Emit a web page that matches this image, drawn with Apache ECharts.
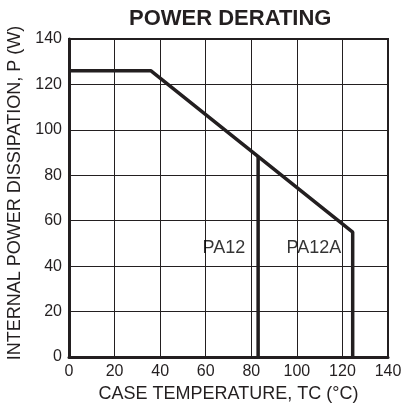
<!DOCTYPE html>
<html lang="en">
<head>
    <meta charset="utf-8">
    <title>Power Derating</title>
    <script src="https://cdn.jsdelivr.net/npm/echarts@6/dist/echarts.min.js"></script>
    <style>
        html, body { margin: 0; padding: 0; background: #fff; }
    </style>
</head>
<body>
    <div id="chart" style="width:404px;height:406px;"></div>
    <script type="text/javascript">

    // curve data: case temperature (°C) vs power (W)
    var deratingCurve = [[0, 126], [36, 126], [124.5, 55], [124.5, 0]];
    var pa12Cutoff = [[83, 88], [83, 0]];
    var partLabels = [
        {name: 'PA12', value: [68, 48]},
        {name: 'PA12A', value: [107.5, 48]}
    ];
    var axisMin = 0, axisMax = 140, axisStep = 20;

    var font = '"Liberation Sans", Arial, Helvetica, sans-serif';
    var ink = '#231f20';

    var chart = echarts.init(document.getElementById('chart'));
    chart.setOption({
        animation: false,
        title: {
            text: 'POWER DERATING',
            left: 124,
            top: 3,
            textStyle: {fontFamily: font, fontSize: 22, fontWeight: 'bold', color: ink}
        },
        grid: {
            left: 69, right: 16, top: 39, bottom: 49,
            outerBoundsMode: 'none',
            show: true, borderColor: ink, borderWidth: 2
        },
        xAxis: {
            type: 'value',
            min: axisMin, max: axisMax, interval: axisStep,
            name: 'CASE TEMPERATURE, TC (°C)',
            nameLocation: 'middle',
            nameGap: 26,
            nameTextStyle: {fontFamily: font, fontSize: 18, color: ink},
            axisLine: {lineStyle: {color: ink, width: 3}},
            axisTick: {show: false},
            axisLabel: {fontFamily: font, fontSize: 16, color: ink, margin: 7},
            splitLine: {lineStyle: {color: ink, width: 1}}
        },
        yAxis: {
            type: 'value',
            min: axisMin, max: axisMax, interval: axisStep,
            name: 'INTERNAL POWER DISSIPATION, P (W)',
            nameLocation: 'middle',
            nameGap: 41,
            nameTextStyle: {fontFamily: font, fontSize: 18, color: ink, padding: [0, 0, 0, 10]},
            axisLine: {lineStyle: {color: ink, width: 3}},
            axisTick: {show: false},
            axisLabel: {fontFamily: font, fontSize: 16, color: ink, margin: 7},
            splitLine: {lineStyle: {color: ink, width: 1}}
        },
        series: [{
            name: 'derating',
            type: 'line',
            data: deratingCurve,
            symbol: 'none',
            lineStyle: {color: ink, width: 3.5},
            z: 5
        }, {
            name: 'PA12',
            type: 'line',
            data: pa12Cutoff,
            symbol: 'none',
            lineStyle: {color: ink, width: 3.5},
            z: 5
        }, {
            name: 'labels',
            type: 'scatter',
            data: partLabels,
            symbolSize: 0,
            label: {
                show: true,
                position: 'inside',
                formatter: '{b}',
                fontFamily: font, fontSize: 18, color: '#000'
            }
        }]
    });
    </script>
</body>
</html>
